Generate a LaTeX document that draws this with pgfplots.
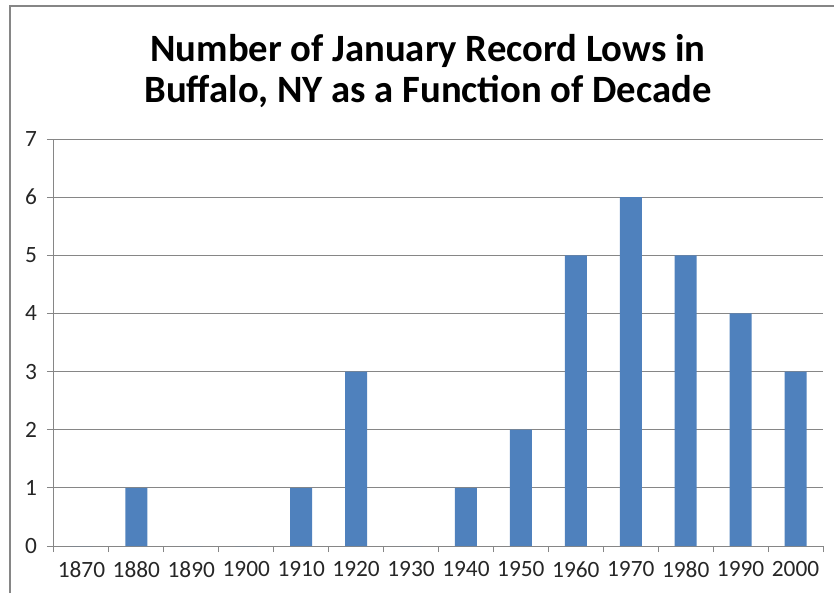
\documentclass[border=0pt]{standalone}
\usepackage{pgfplots}
\pgfplotsset{compat=1.18}
\usepackage{fontspec}
\setmainfont{Carlito}
\definecolor{barblue}{HTML}{4F81BD}
\definecolor{gridgray}{HTML}{868686}
\begin{document}
\begin{tikzpicture}
\begin{scope}[x=0.75pt,y=0.75pt]
\useasboundingbox (0,0) rectangle (834,593);
\draw[gridgray, line width=1.5pt] (10,0) -- (10,587) -- (834,587);
\node[font=\bfseries\fontsize{29}{31}\selectfont, anchor=base] at (428,531) {Number of January Record Lows in};
\node[font=\bfseries\fontsize{29}{31}\selectfont, anchor=base] at (428,490) {Buffalo, NY as a Function of Decade};
\end{scope}
\begin{axis}[
  at={(40.5pt,35.25pt)}, anchor=south west,
  scale only axis, width=576.75pt, height=305.25pt,
  xmin=-0.5, xmax=13.5, ymin=0, ymax=7,
  axis lines=left, axis line style={gridgray, line width=0.75pt, -},
  xtick={0,...,13},
  xticklabels={1870,1880,1890,1900,1910,1920,1930,1940,1950,1960,1970,1980,1990,2000},
  minor xtick={-0.5,0.5,...,13.5},
  ytick={0,...,7},
  tick align=outside,
  major x tick style={draw=none},
  minor tick length=4.5pt,
  major tick length=5.25pt,
  every tick/.style={gridgray, line width=0.75pt},
  ymajorgrids, major grid style={gridgray, line width=0.75pt},
  /pgf/number format/assume math mode=true,
  yticklabel style={font=\fontsize{17.5}{18}\selectfont, text=black!85, xshift=-4pt},
  xticklabel style={font=\fontsize{17.5}{18}\selectfont, text=black!85, yshift=-3pt},
  ybar, bar width=16.5pt,
  clip=false,
]
\addplot[fill=barblue, draw=none] coordinates {
(0,0) (1,1) (2,0) (3,0) (4,1) (5,3) (6,0) (7,1) (8,2) (9,5) (10,6) (11,5) (12,4) (13,3)
};
\end{axis}
\end{tikzpicture}
\end{document}
